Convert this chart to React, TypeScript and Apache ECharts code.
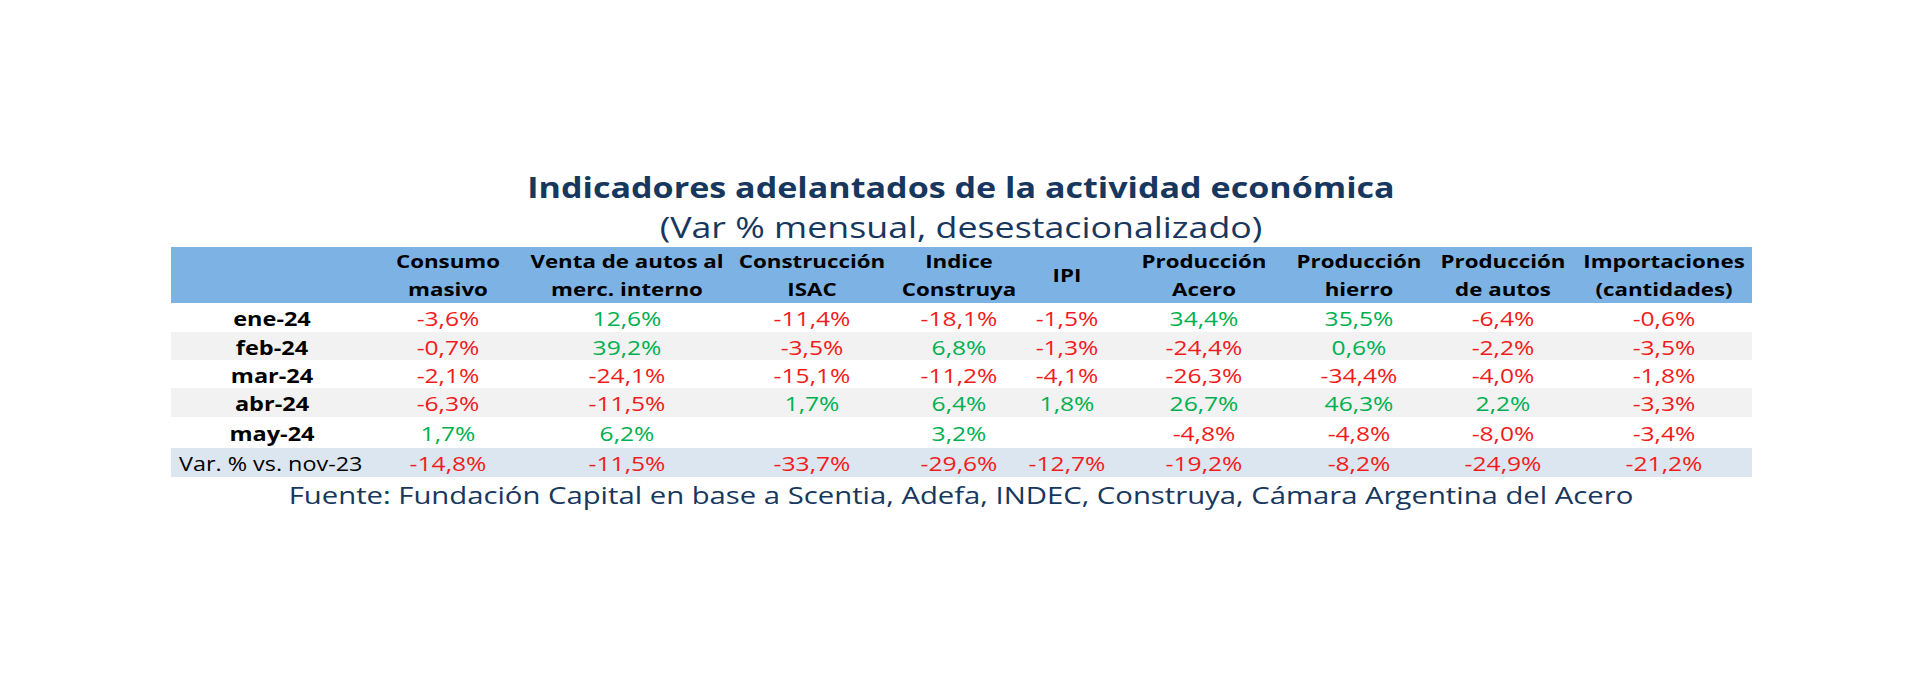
import React, { useEffect, useRef } from "react";
import * as echarts from "echarts";

// ---------- data ----------
const TITLE = "Indicadores adelantados de la actividad económica";
const SUBTITLE = "(Var % mensual, desestacionalizado)";
const SOURCE =
  "Fuente: Fundación Capital en base a Scentia, Adefa, INDEC, Construya, Cámara Argentina del Acero";

const COLUMNS = [
  "Consumo\nmasivo",
  "Venta de autos al\nmerc. interno",
  "Construcción\nISAC",
  "Indice\nConstruya",
  "IPI",
  "Producción\nAcero",
  "Producción\nhierro",
  "Producción\nde autos",
  "Importaciones\n(cantidades)",
];

const ROW_LABELS = ["ene-24", "feb-24", "mar-24", "abr-24", "may-24"];
const TOTAL_LABEL = "Var. % vs. nov-23";

const ENE_24 = [-3.6, 12.6, -11.4, -18.1, -1.5, 34.4, 35.5, -6.4, -0.6];
const FEB_24 = [-0.7, 39.2, -3.5, 6.8, -1.3, -24.4, 0.6, -2.2, -3.5];
const MAR_24 = [-2.1, -24.1, -15.1, -11.2, -4.1, -26.3, -34.4, -4.0, -1.8];
const ABR_24 = [-6.3, -11.5, 1.7, 6.4, 1.8, 26.7, 46.3, 2.2, -3.3];
const MAY_24 = [1.7, 6.2, null, 3.2, null, -4.8, -4.8, -8.0, -3.4];
const VAR_VS_NOV23 = [-14.8, -11.5, -33.7, -29.6, -12.7, -19.2, -8.2, -24.9, -21.2];

const MONTH_VALUES = [ENE_24, FEB_24, MAR_24, ABR_24, MAY_24];

// ---------- layout (table units) ----------
const TABLE_WIDTH = 1581;
const COL_CENTERS = [101, 277, 456, 641, 788, 896, 1033, 1188, 1332, 1493];
const ROW_EDGES = [0, 56, 85, 113, 141, 170, 201, 230];
const S = 1.2; // horizontal stretch of the text

const NAVY = "#17375E";
const RED = "#F21B1B";
const GREEN = "#00B050";
const FONT = "'Open Sans', sans-serif";

type Cell = {
  x: number;
  y: number;
  text: string;
  color: string;
  bold: boolean;
  align: "center" | "left";
  size: number;
  lineHeight?: number;
};

const fmt = (v: number) => v.toFixed(1).replace(".", ",") + "%";
const rowCenter = (r: number) => (ROW_EDGES[r] + ROW_EDGES[r + 1]) / 2;

function buildCells(): Cell[] {
  const cells: Cell[] = [];
  COLUMNS.forEach((c, i) => {
    cells.push({
      x: COL_CENTERS[i + 1],
      y: rowCenter(0),
      text: c,
      color: "#000",
      bold: true,
      align: "center",
      size: 18.6,
      lineHeight: 28.4,
    });
  });
  const allRows = [...MONTH_VALUES, VAR_VS_NOV23];
  allRows.forEach((vals, r) => {
    const isTotal = r === allRows.length - 1;
    cells.push({
      x: isTotal ? 8 : COL_CENTERS[0],
      y: rowCenter(r + 1) + 1,
      text: isTotal ? TOTAL_LABEL : ROW_LABELS[r],
      color: "#000",
      bold: !isTotal,
      align: isTotal ? "left" : "center",
      size: isTotal ? 19.5 : 19.6,
    });
    vals.forEach((v, i) => {
      if (v === null || v === undefined) return;
      cells.push({
        x: COL_CENTERS[i + 1],
        y: rowCenter(r + 1) + 1,
        text: fmt(v),
        color: v < 0 ? RED : GREEN,
        bold: false,
        align: "center",
        size: 20.5,
      });
    });
  });
  return cells;
}

const BANDS: { y0: number; y1: number; color: string }[] = [
  { y0: ROW_EDGES[0], y1: ROW_EDGES[1], color: "#7DB3E4" },
  { y0: ROW_EDGES[2], y1: ROW_EDGES[3], color: "#F2F2F2" },
  { y0: ROW_EDGES[4], y1: ROW_EDGES[5], color: "#F2F2F2" },
  { y0: ROW_EDGES[6], y1: ROW_EDGES[7], color: "#DCE6F1" },
];

export default function App() {
  const ref = useRef<HTMLDivElement>(null);

  useEffect(() => {
    document.body.style.margin = "0";
    if (!ref.current) return;
    const chart = echarts.init(ref.current, null, { renderer: "svg" });
    const cells = buildCells();

    chart.setOption({
      animation: false,
      backgroundColor: "#ffffff",
      grid: { left: 171, top: 247, width: TABLE_WIDTH, height: ROW_EDGES[ROW_EDGES.length - 1] },
      xAxis: { type: "value", min: 0, max: TABLE_WIDTH, show: false },
      yAxis: { type: "value", min: 0, max: ROW_EDGES[ROW_EDGES.length - 1], inverse: true, show: false },
      graphic: [
        {
          type: "text",
          x: 961,
          y: 187,
          scaleX: S,
          style: {
            text: TITLE,
            fill: NAVY,
            fontFamily: FONT,
            fontWeight: "bold",
            fontSize: 28.4,
            align: "center",
            verticalAlign: "middle",
          },
        },
        {
          type: "text",
          x: 961,
          y: 227,
          scaleX: S,
          style: {
            text: SUBTITLE,
            fill: NAVY,
            fontFamily: FONT,
            fontSize: 29.8,
            align: "center",
            verticalAlign: "middle",
          },
        },
        {
          type: "text",
          x: 961,
          y: 494,
          scaleX: S,
          style: {
            text: SOURCE,
            fill: NAVY,
            fontFamily: FONT,
            fontSize: 24.4,
            align: "center",
            verticalAlign: "middle",
          },
        },
      ],
      series: [
        {
          type: "custom",
          coordinateSystem: "cartesian2d",
          silent: true,
          clip: false,
          data: BANDS.map((b) => [b.y0, b.y1]),
          renderItem: (params: any, api: any) => {
            const b = BANDS[params.dataIndex];
            const p0 = api.coord([0, b.y0]);
            const p1 = api.coord([TABLE_WIDTH, b.y1]);
            return {
              type: "rect",
              shape: { x: p0[0], y: p0[1], width: p1[0] - p0[0], height: p1[1] - p0[1] },
              style: { fill: b.color },
            };
          },
          encode: { x: 0, y: 1 },
        },
        {
          type: "custom",
          coordinateSystem: "cartesian2d",
          silent: true,
          clip: false,
          data: cells.map((c) => [c.x, c.y]),
          encode: { x: 0, y: 1 },
          renderItem: (params: any, api: any) => {
            const c = cells[params.dataIndex];
            const p = api.coord([api.value(0), api.value(1)]);
            return {
              type: "text",
              x: p[0],
              y: p[1],
              scaleX: S,
              style: {
                text: c.text,
                fill: c.color,
                fontFamily: FONT,
                fontWeight: c.bold ? "bold" : "normal",
                fontSize: c.size,
                lineHeight: c.lineHeight,
                align: c.align,
                verticalAlign: "middle",
              },
            };
          },
        },
      ],
    });

    return () => chart.dispose();
  }, []);

  return (
    <div
      ref={ref}
      style={{ position: "absolute", left: 0, top: 0, width: 1920, height: 684 }}
    />
  );
}
